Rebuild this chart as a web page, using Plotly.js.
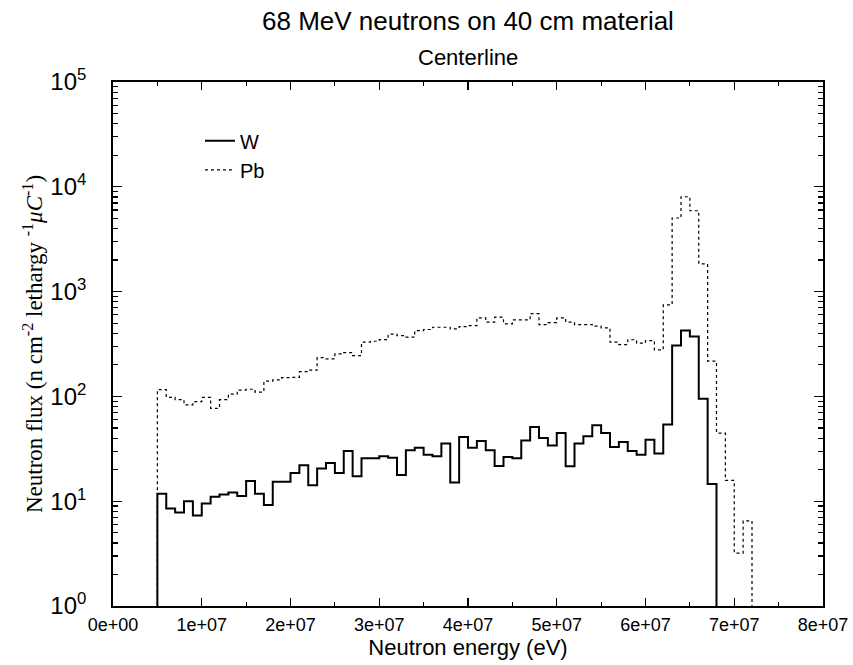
<!DOCTYPE html>
<html>
<head>
<meta charset="utf-8">
<script src="https://cdn.plot.ly/plotly-3.0.1.min.js"></script>
<style>html,body{margin:0;padding:0;background:#fff;}#chart{width:853px;height:665px;}</style>
</head>
<body>
<div id="chart"></div>
<script>
// Bins: 1 MeV wide, starting at 5 MeV (energies in eV)
const binStartEV = 5e6;
const binWidthEV = 1e6;

// W flux per bin (5-68 MeV)
const fluxW = [11.8, 8.5, 7.8, 10, 7.3, 9.5, 11, 11.6, 12.1, 11.2,
  15.6, 11.8, 9.2, 15.3, 15.3, 18.6, 22, 14.2, 20.5, 23.2,
  18.6, 30.2, 17.3, 25.7, 25.7, 26.8, 26, 17.8, 30.6, 32.4,
  27.8, 26.8, 35.5, 15.1, 41, 32.4, 37.5, 30.6, 21.7, 26.4,
  25.7, 38, 51, 40, 34, 44.8, 21.5, 35.5, 41.6, 53,
  44.8, 32.9, 36.7, 30.2, 27.8, 38.6, 28.5, 54, 306, 425,
  372, 95, 14.6];

// Pb flux per bin (5-72 MeV)
const fluxPb = [116, 98, 93, 83, 89, 98, 77, 93, 105, 115,
  117, 110, 140, 144, 151, 152, 172, 178, 234, 228,
  254, 262, 245, 329, 336, 348, 393, 380, 367, 425,
  435, 457, 457, 441, 464, 474, 562, 511, 570, 492,
  537, 537, 617, 485, 505, 562, 511, 485, 485, 468,
  451, 329, 312, 347, 322, 341, 278, 747, 5040, 8040,
  5910, 1840, 217, 44.7, 15.8, 3.2, 6.5];

const seriesNames = ["W", "Pb"];

const xTickVals = [0, 1e7, 2e7, 3e7, 4e7, 5e7, 6e7, 7e7, 8e7];
const xTickText = ["0e+00", "1e+07", "2e+07", "3e+07", "4e+07", "5e+07", "6e+07", "7e+07", "8e+07"];
const yTickVals = [1, 10, 100, 1000, 10000, 100000];
const yTickText = ["10<sup>0</sup>", "10<sup>1</sup>", "10<sup>2</sup>", "10<sup>3</sup>", "10<sup>4</sup>", "10<sup>5</sup>"];

const FLOOR = 0.05; // below axis range, so steps drop to the baseline

function stepTrace(vals) {
  const x = [binStartEV];
  const y = [FLOOR];
  for (let i = 0; i <= vals.length; i++) x.push(binStartEV + i * binWidthEV);
  for (let i = 0; i < vals.length; i++) y.push(vals[i]);
  y.push(FLOOR);
  return {x: x, y: y};
}

const w = stepTrace(fluxW);
const pb = stepTrace(fluxPb);

const traces = [
  {x: w.x, y: w.y, name: seriesNames[0], type: "scatter", mode: "lines",
   line: {shape: "hv", color: "#000", width: 2}},
  {x: pb.x, y: pb.y, name: seriesNames[1], type: "scatter", mode: "lines",
   line: {shape: "hv", color: "#000", width: 1.2, dash: "dot"}}
];

const SANS = "Liberation Sans, Arial, Helvetica, sans-serif";

const layout = {
  width: 853, height: 665,
  margin: {l: 113, r: 30, t: 82, b: 59},
  paper_bgcolor: "#fff", plot_bgcolor: "#fff",
  font: {family: SANS, color: "#000"},
  title: {text: "68 MeV neutrons on 40 cm material", x: 0.5486, xanchor: "center",
          y: 0.968, yanchor: "middle", font: {size: 26, color: "#000", family: SANS}},
  annotations: [{text: "Centerline", xref: "paper", yref: "paper", x: 0.5, y: 1.0,
                 yshift: 25, xanchor: "center", yanchor: "middle", showarrow: false,
                 font: {size: 22, color: "#000", family: SANS}}],
  showlegend: true,
  legend: {x: 0.1225, y: 0.925, xanchor: "left", yanchor: "top", bgcolor: "rgba(0,0,0,0)",
           font: {size: 20, color: "#000", family: SANS}, tracegroupgap: 0},
  xaxis: {
    range: [0, 8e7], tickvals: xTickVals, ticktext: xTickText,
    ticks: "inside", ticklen: 8, tickwidth: 1.2, tickcolor: "#000",
    showline: true, linecolor: "#000", linewidth: 1.8, mirror: "ticks",
    showgrid: false, zeroline: false,
    tickfont: {size: 18, color: "#000", family: SANS},
    ticklabelstandoff: 2, ticklabeloverflow: "allow",
    minor: {dtick: 5e6, tick0: 0, ticks: "inside", ticklen: 4, tickcolor: "#000", showgrid: false},
    title: {text: "Neutron energy (eV)", font: {size: 22, color: "#000", family: SANS}, standoff: 2}
  },
  yaxis: {
    type: "log", range: [0, 5], tickvals: yTickVals, ticktext: yTickText,
    ticks: "inside", ticklen: 9, tickwidth: 1.2, tickcolor: "#000",
    showline: true, linecolor: "#000", linewidth: 1.8, mirror: "ticks",
    showgrid: false, zeroline: false,
    tickfont: {size: 24, color: "#000", family: SANS},
    ticklabelstandoff: 20,
    minor: {dtick: "D1", ticks: "inside", ticklen: 5, tickcolor: "#000", showgrid: false},
    title: {text: "Neutron flux (n cm<sup>-2</sup> lethargy <sup>-1</sup><i>μC</i><sup>-1</sup>)",
            font: {size: 23, family: "Liberation Serif, Times New Roman, serif", color: "#000"}, standoff: 1}
  }
};

Plotly.newPlot("chart", traces, layout, {displayModeBar: false, staticPlot: true});
</script>
</body>
</html>
